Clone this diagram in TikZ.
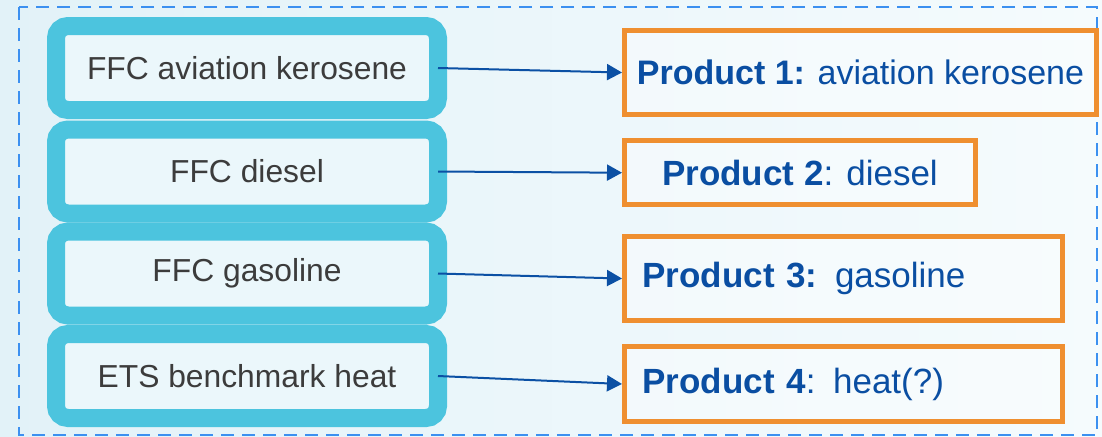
\documentclass[tikz,border=0pt]{standalone}
\usepackage{fontspec}
\setmainfont{Liberation Sans}
\usetikzlibrary{arrows.meta}
\definecolor{fuelcyan}{HTML}{4CC4DE}
\definecolor{fuelfill}{HTML}{EBF7FB}
\definecolor{prodorange}{HTML}{EF8F30}
\definecolor{prodblue}{HTML}{0A4EA2}
\definecolor{linkblue}{HTML}{0B50A4}
\definecolor{framedash}{HTML}{3C90F0}
\definecolor{bgleft}{HTML}{E2F2F8}
\definecolor{bgright}{HTML}{F5FBFD}
\definecolor{fueltext}{HTML}{3C3C3C}
\begin{document}
\begin{tikzpicture}[x=0.5pt,y=-0.5pt,
        fuel/.style={draw=fuelcyan,line width=9pt,rounded corners=6pt,fill=fuelfill,
            minimum width=191pt,minimum height=42pt,outer sep=0pt,text=fueltext,
            font=\fontsize{15.9}{18}\selectfont},
        prod/.style={draw=prodorange,line width=2.5pt,fill=white,fill opacity=.35,text opacity=1,
            text=prodblue,minimum height=42pt,font=\fontsize{17.5}{20}\selectfont},
        link/.style={linkblue,line width=1pt,-{Triangle[length=7.5pt,width=8pt]}}]
    % background and frame
    \shade[left color=bgleft,right color=bgright] (0,0) rectangle (1102,436);
    \useasboundingbox (0,0) rectangle (1102,436);
    \draw[framedash,line width=1.2pt,dash pattern=on 6.5pt off 4pt] (19,7) rectangle (1097,435);
    % fuel comparators
    \node[fuel] (ffc1) at (247,68) {FFC aviation kerosene};
    \node[fuel] (ffc2) at (247,171.5) {FFC diesel};
    \node[fuel] (ffc3) at (247,273.5) {FFC gasoline};
    \node[fuel] (ets4) at (247,376) {ETS benchmark heat};
    % products
    \node[prod,minimum width=236pt,font=\fontsize{17}{20}\selectfont] (prod1) at (860.5,72.5)
        {\textbf{Product 1:} aviation kerosene};
    \node[prod,minimum width=175.5pt,minimum height=32pt] (prod2) at (800,172.7)
        {\textbf{Product 2}: diesel};
    \node[prod,text width=201pt,inner xsep=9pt,align=left] (prod3) at (843.5,278.5)
        {\textbf{Product 3:} gasoline};
    \node[prod,text width=201pt,inner xsep=9pt,align=left,minimum height=37.5pt] (prod4) at (843.5,384)
        {\textbf{Product 4}: heat(?)};
    % links
    \draw[link] (ffc1.east) -- (prod1.west);
    \draw[link] (ffc2.east) -- (prod2.west);
    \draw[link] (ffc3.east) -- (prod3.west);
    \draw[link] (ets4.east) -- (prod4.west);
\end{tikzpicture}
\end{document}
